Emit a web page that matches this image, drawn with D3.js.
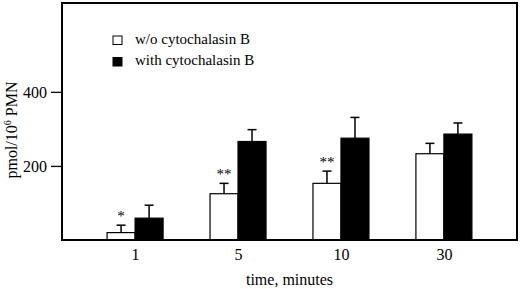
<!DOCTYPE html>
<html>
<head>
<meta charset="utf-8">
<script src="https://cdn.jsdelivr.net/npm/d3@7"></script>
<style>
  body { margin: 0; background: #fff; }
</style>
</head>
<body>
<div id="chart" style="width:520px;height:289px"></div>
<script>
const times = ["1", "5", "10", "30"];
const seriesNames = ["w/o cytochalasin B", "with cytochalasin B"];
const withoutCB = [20, 125, 153, 233];
const withoutCBErr = [20, 28, 33, 28];
const withCB = [59, 266, 275, 286];
const withCBErr = [35, 32, 56, 30];
const marks = ["*", "**", "**", ""];
const yTicks = [200, 400];

const FONT = "'Liberation Serif', 'Times New Roman', Times, serif";

function drawChart(containerId) {
  const width = 520, height = 289;
  const margin = { top: 3, right: 3, bottom: 49, left: 62 };
  const iW = width - margin.left - margin.right;
  const iH = height - margin.top - margin.bottom;

  const svg = d3.select(`#${containerId}`)
    .append("svg")
    .attr("width", width)
    .attr("height", height)
    .append("g")
    .attr("transform", `translate(${margin.left},${margin.top})`);

  const x = d3.scalePoint().domain(times).range([0, iW]).padding(0.71);
  const sub = d3.scaleBand().domain([0, 1]).range([-28, 28]);
  const y = d3.scaleLinear().domain([0, 640]).range([iH, 0]);

  const rows = times.map((t, i) => [
    { t, s: 0, v: withoutCB[i], e: withoutCBErr[i] },
    { t, s: 1, v: withCB[i], e: withCBErr[i] }
  ]).flat();

  // error bars (drawn first, bars cover the lower part)
  const cap = 4.5;
  rows.forEach(d => {
    const cx = x(d.t) + sub(d.s) + sub.bandwidth() / 2;
    svg.append("line")
      .attr("x1", cx).attr("x2", cx)
      .attr("y1", y(d.v)).attr("y2", y(d.v + d.e))
      .style("stroke", "#000").style("stroke-width", 1.5);
    svg.append("line")
      .attr("x1", cx - cap).attr("x2", cx + cap)
      .attr("y1", y(d.v + d.e)).attr("y2", y(d.v + d.e))
      .style("stroke", "#000").style("stroke-width", 1.5);
  });

  svg.selectAll("rect.bar")
    .data(rows)
    .join("rect")
    .attr("class", "bar")
    .attr("x", d => x(d.t) + sub(d.s))
    .attr("y", d => y(d.v))
    .attr("width", sub.bandwidth())
    .attr("height", d => iH - y(d.v))
    .style("fill", d => d.s === 0 ? "#fff" : "#000")
    .style("stroke", "#000")
    .style("stroke-width", 1.2);

  // significance marks
  times.forEach((t, i) => {
    if (!marks[i]) return;
    svg.append("text")
      .attr("x", x(t) + sub(0) + sub.bandwidth() / 2)
      .attr("y", y(withoutCB[i] + withoutCBErr[i]) - 4)
      .attr("text-anchor", "middle")
      .style("font-family", FONT)
      .style("font-size", "15px")
      .style("fill", "#000")
      .text(marks[i]);
  });

  // frame
  svg.append("rect")
    .attr("x", 0).attr("y", 0)
    .attr("width", iW).attr("height", iH)
    .style("fill", "none")
    .style("stroke", "#000")
    .style("stroke-width", 2);

  // y axis ticks
  svg.append("g")
    .call(d3.axisLeft(y).tickValues(yTicks).tickSize(11).tickPadding(4))
    .call(g => g.select(".domain").remove())
    .call(g => g.selectAll("line").style("stroke-width", 1.3))
    .call(g => g.selectAll("text").style("font-size", "16px")
      .style("font-family", FONT).style("fill", "#000"));

  // x labels
  svg.append("g")
    .attr("transform", `translate(0,${iH})`)
    .call(d3.axisBottom(x).tickSize(0).tickPadding(9))
    .call(g => g.select(".domain").remove())
    .call(g => g.selectAll("text").style("font-size", "16px")
      .style("font-family", FONT).style("fill", "#000"));

  svg.append("text")
    .attr("x", iW / 2)
    .attr("y", iH + 45)
    .attr("text-anchor", "middle")
    .style("font-family", FONT)
    .style("font-size", "16px")
    .style("fill", "#000")
    .text("time, minutes");

  const yl = svg.append("text")
    .attr("transform", "rotate(-90)")
    .attr("x", -(130 - margin.top))
    .attr("y", -45)
    .attr("text-anchor", "middle")
    .style("font-family", FONT)
    .style("font-size", "16px")
    .style("fill", "#000");
  yl.append("tspan").text("pmol/10");
  yl.append("tspan").attr("dy", -6).style("font-size", "10px").text("6");
  yl.append("tspan").attr("dy", 6).text(" PMN");

  // legend
  const legend = svg.append("g").attr("transform", "translate(51,33)");
  seriesNames.forEach((name, i) => {
    legend.append("rect")
      .attr("x", 0).attr("y", i * 21.5)
      .attr("width", 9).attr("height", 8.5)
      .style("fill", i === 0 ? "#fff" : "#000")
      .style("stroke", "#000").style("stroke-width", 1);
    legend.append("text")
      .attr("x", 22).attr("y", i * 21.5 + 7.5)
      .style("font-family", FONT)
      .style("font-size", "15px")
      .style("fill", "#000")
      .text(name);
  });
}

drawChart("chart");
</script>
</body>
</html>
